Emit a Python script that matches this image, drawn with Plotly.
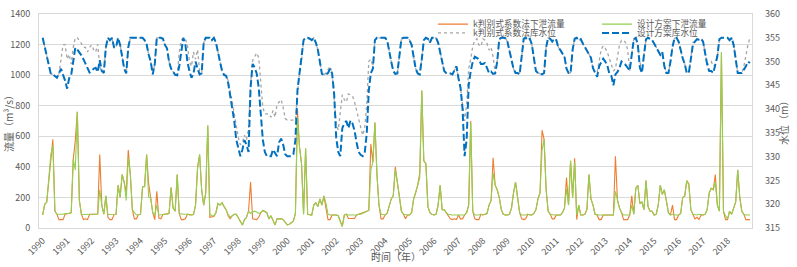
import plotly.graph_objects as go

years = list(range(1990, 2019))
year_labels = [str(y) for y in years]

# monthly values, one row per year (Jan..Dec)
z_design = [
    355, 353, 351, 349, 347.4, 347.3, 347, 346.6, 347.5, 348.5, 347.2, 346.0,   # 1990
    344.3, 346.5, 347.2, 350, 352.9, 352.5, 352, 351.3, 350.5, 349.5, 348.5, 347.7,  # 1991
    348, 348.5, 348.7, 347.8, 350.3, 348, 347.6, 353, 355, 354.5, 355, 353,     # 1992
    353, 355, 353.5, 351.3, 348.5, 347.5, 353, 355, 355, 355, 355, 355,         # 1993
    355, 355, 354.5, 353.6, 351.5, 350, 347.3, 349.5, 355, 355, 355, 354.8,     # 1994
    353.5, 352.8, 350, 348.5, 347.8, 347.2, 347.1, 349, 352, 355, 353.6, 350,   # 1995
    348, 346.6, 347.5, 350, 348.5, 347.3, 347.5, 354, 355, 355, 355, 354.5,     # 1996
    355, 354, 352, 350, 348, 347.2, 347, 345.5, 343, 340.5, 337.5, 333.5,       # 1997
    331.5, 330.1, 331.5, 333.5, 332.5, 331, 344.5, 349.5, 348.8, 347.5, 344.5, 339.5,  # 1998
    333.6, 331, 330.1, 330.1, 330.1, 331.5, 330.8, 330.1, 333, 333.8, 332.5, 330.5,    # 1999
    330.1, 330.1, 330.1, 330.5, 333.5, 344, 347.6, 350, 354.5, 355, 355, 354.8,  # 2000
    354.5, 355, 354, 352.5, 350, 347.4, 347.2, 347.3, 347.6, 348.5, 347.5, 343.2,  # 2001
    334, 331, 330.1, 336, 337, 337.5, 336, 337.6, 337, 335.5, 333, 331,          # 2002
    330.4, 330.1, 330.8, 334.9, 343.9, 347.6, 348.5, 354.5, 355, 355, 355, 355,  # 2003
    355, 354.5, 352, 350, 348, 347.4, 347.5, 351, 354.8, 355, 355, 355,          # 2004
    354.5, 353.5, 351, 348.5, 347.5, 347.3, 350.5, 354.5, 355, 354.8, 354, 355,  # 2005
    355, 355, 354, 351.8, 349.5, 348, 347.6, 347.6, 347.5, 347.3, 348.3, 349,    # 2006
    346.5, 344.5, 340, 330.1, 333.6, 345, 348, 350, 351, 350.8, 350.5, 349.5,    # 2007
    349.5, 349.7, 348.5, 347.6, 347.9, 347.4, 347.5, 350, 354.7, 355, 355, 354.9,  # 2008
    354.2, 352.5, 350.5, 348.5, 347.6, 347.6, 347.3, 351.2, 354.8, 355, 354.5, 354.8,  # 2009
    353.6, 350.7, 348, 347.6, 347.5, 347.3, 347.6, 353, 355, 354.8, 354.2, 354.8,  # 2010
    354.5, 353, 352.4, 351.8, 351, 348.5, 347.6, 347.6, 352.5, 354.8, 355, 354.5,  # 2011
    354.7, 353.8, 353, 352.2, 351.5, 350.8, 348.6, 347.6, 346.8, 349, 350, 350.6,  # 2012
    350, 349.2, 347.5, 347, 345, 347.3, 347.8, 348.7, 350, 349.7, 349.3, 348.7,  # 2013
    348.1, 351.4, 354.7, 355, 353.5, 348.7, 347.6, 351.4, 354.7, 355, 354.8, 354.5,  # 2014
    353.8, 353, 352.5, 351.4, 352, 349, 347.6, 347.6, 350, 353.1, 354.9, 355,    # 2015
    354.2, 352.3, 350.7, 349.5, 347.6, 347.6, 350.7, 353.5, 354.2, 354.7, 354.6, 354.8,  # 2016
    354.2, 351.8, 349.4, 348, 348, 347.6, 349.4, 351.1, 354.7, 355, 355, 355,    # 2017
    355, 354.5, 355, 353.5, 351, 347.6, 347.6, 347.6, 348.3, 349, 350, 349.7,    # 2018
]

z_k = [
    355, 353, 351, 349, 347.4, 347.3, 347, 346.6, 347.5, 351, 353.5, 353.6,     # 1990
    350.5, 351.5, 349.5, 353, 355, 355, 354.5, 353.8, 353, 353, 352, 353,       # 1991
    353.5, 352.5, 352, 353.6, 349, 348, 347.8, 353, 355, 354.5, 355, 353,       # 1992
    353, 355, 353.5, 351.3, 348.5, 347.5, 353, 355, 355, 355, 355, 355,         # 1993
    355, 355, 354.5, 353.6, 351.5, 350, 347.3, 349.5, 355, 355, 355, 354.8,     # 1994
    353.5, 352.8, 350, 348.5, 347.8, 347.2, 347.1, 352, 354.5, 355, 354.8, 353.5,  # 1995
    350, 349, 352, 350.5, 352.5, 348, 347.5, 354, 355, 355, 355, 354.5,         # 1996
    355, 354, 352, 350, 348, 347.2, 347, 346, 344, 341.5, 339, 336,             # 1997
    334, 332.5, 333, 334.5, 333.5, 336, 345.5, 350.2, 351.2, 351.8, 350.8, 346,  # 1998
    340.4, 339, 339, 339, 338.3, 339.7, 338.3, 341, 341.5, 342, 340.3, 338,     # 1999
    337.7, 337.7, 337.7, 337.7, 337.7, 343, 347.6, 350, 354.5, 355, 355, 354.8,  # 2000
    354.5, 355, 354, 352.5, 350, 347.4, 347.2, 347.6, 348.3, 349, 347.5, 342,   # 2001
    337, 335.6, 340, 343, 342, 341.5, 343.2, 343, 342.8, 341.5, 339.7, 337.5,   # 2002
    336, 334.5, 336, 341, 350, 350.5, 349, 354.5, 355, 355, 355, 355,           # 2003
    355, 354.5, 352, 350, 348, 347.4, 347.5, 351, 354.8, 355, 355, 355,         # 2004
    354.5, 353.5, 351, 348.5, 347.5, 347.3, 350.5, 354.5, 355, 354.8, 354, 355,  # 2005
    355, 355, 354, 351.8, 349.5, 348, 347.6, 347.6, 347.5, 347.3, 348.3, 349,   # 2006
    346.5, 344.5, 341, 337.5, 341, 348.5, 350.5, 353.2, 354.5, 354.8, 353.5, 353.2,  # 2007
    354.8, 354.5, 353.8, 352.4, 353, 351, 347.6, 350, 354.7, 355, 355, 354.9,   # 2008
    354.2, 352.5, 350.5, 348.5, 347.6, 347.6, 347.3, 351.2, 354.8, 355, 354.5, 354.8,  # 2009
    353.6, 350.7, 348, 347.6, 347.5, 347.3, 347.6, 353, 355, 354.8, 354.2, 354.8,  # 2010
    354.5, 353, 352.4, 351.8, 351, 348.5, 347.6, 347.6, 352.5, 354.8, 355, 354.5,  # 2011
    354.7, 353.8, 353, 352.2, 351.5, 350.8, 348.6, 347.6, 347.6, 350.5, 352.5, 353.3,  # 2012
    352.8, 352, 350.5, 349, 348, 348.5, 351.5, 353.5, 354.5, 354.5, 354, 352.5,  # 2013
    348.1, 351.4, 354.7, 355, 353.5, 350, 348, 351.4, 354.7, 355, 354.8, 354.5,  # 2014
    353.8, 353, 352.5, 351.4, 352, 349, 347.6, 347.6, 350, 353.1, 354.9, 355,   # 2015
    354.2, 352.3, 350.7, 349.5, 347.6, 347.6, 351.5, 354, 354.2, 354.7, 354.6, 354.8,  # 2016
    354.2, 351.8, 349.4, 349.5, 350, 349, 349.4, 351.1, 354.7, 355, 355, 355,   # 2017
    355, 354.5, 355, 353.5, 351, 347.6, 347.6, 347.6, 349, 351.5, 353.5, 355,   # 2018
]

q_design = [
    85, 155, 170, 320, 480, 540, 110, 90, 90, 90, 90, 95,        # 1990
    95, 95, 100, 450, 380, 760, 180, 90, 88, 88, 88, 88,         # 1991
    90, 90, 90, 92, 250, 150, 90, 210, 88, 88, 88, 88,           # 1992
    90, 280, 200, 350, 300, 180, 460, 350, 120, 100, 85, 88,     # 1993
    90, 270, 270, 480, 200, 200, 100, 85, 150, 85, 88, 88,       # 1994
    90, 90, 95, 265, 130, 110, 350, 95, 90, 90, 90, 90,          # 1995
    85, 85, 88, 150, 390, 480, 250, 150, 230, 670, 90, 80,       # 1996
    80, 100, 160, 150, 165, 140, 120, 90, 70, 80, 90, 90,        # 1997
    65, 50, 20, 55, 70, 110, 95, 105, 110, 105, 95, 100,         # 1998
    115, 110, 100, 60, 80, 50, 20, 60, 60, 60, 55, 40,           # 1999
    20, 25, 35, 45, 95, 725, 530, 420, 90, 520, 90, 85,          # 2000
    85, 150, 165, 140, 190, 150, 210, 160, 90, 85, 85, 85,       # 2001
    85, 80, 40, 10, 85, 90, 85, 85, 85, 85, 85, 90,              # 2002
    90, 95, 105, 110, 115, 380, 430, 690, 350, 150, 90, 85,      # 2003
    85, 95, 140, 190, 210, 380, 300, 200, 110, 90, 85, 85,       # 2004
    85, 100, 190, 230, 280, 330, 900, 440, 420, 140, 100, 90,    # 2005
    85, 90, 150, 280, 120, 120, 100, 90, 85, 85, 85, 85,         # 2006
    85, 85, 85, 85, 100, 150, 690, 110, 85, 85, 85, 90,          # 2007
    85, 90, 95, 150, 180, 360, 280, 250, 200, 120, 90, 85,       # 2008
    85, 90, 130, 230, 300, 200, 100, 85, 85, 85, 90, 85,         # 2009
    85, 95, 120, 190, 230, 510, 580, 250, 110, 90, 85, 85,       # 2010
    85, 85, 85, 100, 130, 260, 150, 440, 200, 430, 85, 150,      # 2011
    85, 85, 90, 120, 350, 190, 150, 90, 85, 85, 85, 85,          # 2012
    85, 85, 85, 85, 85, 240, 180, 130, 100, 85, 85, 85,          # 2013
    85, 150, 90, 260, 280, 160, 170, 120, 310, 140, 110, 110,    # 2014
    85, 90, 150, 280, 220, 250, 180, 100, 85, 90, 85, 85,        # 2015
    85, 95, 200, 210, 310, 280, 120, 90, 85, 85, 90, 85,         # 2016
    85, 90, 120, 230, 260, 250, 300, 150, 110, 1150, 110, 80,    # 2017
    60, 110, 90, 130, 170, 380, 200, 110, 90, 85, 85, 85,        # 2018
]

q_k = [
    85, 155, 170, 320, 480, 580, 110, 90, 55, 55, 55, 90,        # 1990
    95, 95, 100, 450, 570, 760, 180, 90, 55, 60, 55, 88,         # 1991
    90, 90, 90, 92, 480, 150, 90, 210, 70, 55, 55, 88,           # 1992
    90, 280, 200, 350, 300, 230, 510, 350, 120, 60, 60, 88,      # 1993
    90, 270, 270, 480, 290, 200, 100, 55, 240, 65, 60, 88,       # 1994
    90, 90, 95, 265, 130, 110, 350, 95, 55, 55, 60, 90,          # 1995
    85, 85, 88, 150, 400, 480, 250, 150, 230, 670, 70, 75,       # 1996
    75, 100, 160, 150, 165, 140, 120, 80, 60, 80, 90, 90,        # 1997
    65, 50, 20, 55, 70, 110, 300, 60, 55, 55, 70, 100,           # 1998
    115, 110, 100, 60, 80, 50, 20, 60, 60, 60, 55, 40,           # 1999
    20, 25, 35, 45, 95, 775, 530, 420, 90, 520, 90, 85,          # 2000
    85, 150, 165, 140, 190, 150, 210, 130, 55, 55, 85, 85,       # 2001
    85, 80, 40, 10, 85, 90, 62, 62, 62, 62, 85, 90,              # 2002
    90, 95, 105, 110, 115, 550, 430, 690, 350, 150, 60, 60,      # 2003
    85, 95, 140, 190, 210, 400, 300, 200, 110, 90, 60, 85,       # 2004
    85, 100, 190, 230, 280, 360, 900, 440, 420, 140, 100, 90,    # 2005
    85, 90, 150, 280, 120, 120, 100, 80, 60, 55, 60, 55,         # 2006
    85, 60, 60, 85, 100, 150, 700, 110, 60, 55, 55, 90,          # 2007
    85, 90, 95, 150, 180, 460, 280, 250, 200, 120, 90, 85,       # 2008
    85, 90, 130, 230, 300, 200, 100, 60, 55, 60, 90, 85,         # 2009
    85, 95, 120, 190, 230, 640, 580, 250, 110, 90, 60, 60,       # 2010
    85, 85, 85, 100, 130, 330, 150, 440, 200, 456, 55, 150,      # 2011
    85, 85, 90, 120, 350, 190, 150, 90, 85, 55, 55, 85,          # 2012
    85, 85, 85, 85, 85, 470, 180, 130, 100, 55, 55, 55,          # 2013
    85, 210, 90, 260, 280, 160, 170, 120, 310, 140, 110, 110,    # 2014
    85, 90, 150, 280, 220, 250, 180, 100, 85, 150, 55, 55,       # 2015
    85, 95, 200, 210, 310, 290, 120, 90, 60, 70, 55, 85,         # 2016
    85, 90, 120, 230, 260, 250, 350, 150, 110, 1150, 110, 55,    # 2017
    55, 110, 90, 130, 170, 380, 200, 110, 90, 55, 55, 55,        # 2018
]

t = [y + m / 12 for y in years for m in range(12)]

FONT = "Noto Sans CJK SC, Noto Sans, sans-serif"
GREY_TXT = "#595959"

fig = go.Figure()
fig.add_trace(go.Scatter(x=t, y=q_k, name="k判别式系数法下泄流量", mode="lines",
                         line=dict(color="#ED7D31", width=1.1), legend="legend"))
fig.add_trace(go.Scatter(x=t, y=q_design, name="设计方案下泄流量", mode="lines",
                         line=dict(color="#92D050", width=1.1), legend="legend3"))
fig.add_trace(go.Scatter(x=t, y=z_k, name="k判别式系数法库水位", mode="lines", yaxis="y2",
                         line=dict(color="#A5A5A5", width=1.3, dash="dot"), legend="legend2"))
fig.add_trace(go.Scatter(x=t, y=z_design, name="设计方案库水位", mode="lines", yaxis="y2",
                         line=dict(color="#0070C0", width=2, dash="7px,3px"), legend="legend4"))


def leg(x, y):
    return dict(x=x, y=y, xanchor="left", yanchor="top", bgcolor="rgba(0,0,0,0)",
                borderwidth=0, font=dict(size=8.7, color=GREY_TXT))


def note(text, x, y, angle=0):
    return dict(text=text, x=x, y=y, xref="paper", yref="paper", xanchor="center",
                yanchor="middle", showarrow=False, textangle=angle,
                font=dict(size=10, color=GREY_TXT))


fig.update_layout(
    width=797, height=267,
    margin=dict(l=39, r=45, t=10, b=39),
    paper_bgcolor="white", plot_bgcolor="white",
    font=dict(family=FONT, size=9, color=GREY_TXT),
    showlegend=True,
    xaxis=dict(range=[1989.85, 2019.0], tickvals=years, ticktext=year_labels,
               tickangle=-45, tickfont=dict(size=9, color=GREY_TXT),
               ticks="outside", ticklen=3, tickcolor="rgba(0,0,0,0)",
               showgrid=False, showline=True, linecolor="#D9D9D9", mirror=True,
               zeroline=False, automargin=False),
    yaxis=dict(range=[0, 1400], dtick=200, showgrid=True, gridcolor="#D9D9D9",
               showline=True, linecolor="#D9D9D9", mirror=True, zeroline=False,
               tickfont=dict(size=9, color=GREY_TXT), ticklabelstandoff=6, automargin=False),
    yaxis2=dict(range=[315, 360], dtick=5, overlaying="y", side="right",
                showgrid=False, zeroline=False, showline=False, automargin=False,
                tickfont=dict(size=9, color=GREY_TXT), ticklabelstandoff=12),
    legend=leg(0.5526, 1.0206),
    legend2=leg(0.5526, 0.9794),
    legend3=leg(0.7826, 1.0206),
    legend4=leg(0.7826, 0.9794),
    annotations=[
        note("时间（年）", 0.5, -0.133),
        note("流量（m³/s）", -0.0435, 0.5, -90),
        note("水位（m）", 1.0435, 0.5, -90),
    ],
)

fig.write_html("out.html", config={"displayModeBar": False},
               post_script="document.body.style.margin='0px';")
